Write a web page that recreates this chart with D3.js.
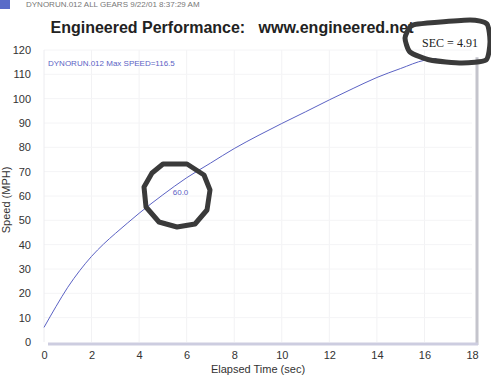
<!DOCTYPE html>
<html>
<head>
<meta charset="utf-8">
<script src="https://cdn.jsdelivr.net/npm/d3@7"></script>
<style>
  body { margin: 0; background: #fff; }
  text { font-family: "Liberation Sans", Arial, sans-serif; }
</style>
</head>
<body>
<div id="chart"></div>
<script>
// Data read from the dyno sheet
var times = [0, 0.5, 1, 1.5, 2, 2.5, 3, 3.5, 4, 4.5, 5, 6, 7, 8, 9, 10, 11, 12, 13, 14, 15, 16, 16.5];
var speeds = [6, 14.5, 22.5, 29.3, 35.2, 40.2, 44.6, 48.8, 52.9, 56.8, 60.5, 67.5, 73.5, 79.5, 84.8, 89.8, 94.6, 99.5, 104.2, 108.7, 112.4, 115.8, 116.5];
var xTicks = [0, 2, 4, 6, 8, 10, 12, 14, 16, 18];
var yTicks = [0, 10, 20, 30, 40, 50, 60, 70, 80, 90, 100, 110, 120];
var runLabel = "DYNORUN.012  Max SPEED=116.5";
var markTime = 4.91, markSpeed = 60;

var W = 491, H = 377;
var lineColor = "#5b62c4",
    inkColor = "#3a3a3a";

var svg = d3.select("#chart").append("svg")
    .attr("width", W)
    .attr("height", H);

var x = d3.scaleLinear().domain([0, 18]).range([44, 472]);
var y = d3.scaleLinear().domain([0, 120]).range([342, 50]);

// scan header remnants
svg.append("rect").attr("x", 0).attr("y", 0).attr("width", 10).attr("height", 9).style("fill", "#5a6cc8");
svg.append("text").attr("x", 26).attr("y", 7).text("DYNORUN.012  ALL GEARS  9/22/01 8:37:29 AM")
    .style("font-size", "8px").style("fill", "#777");

// title
svg.append("text").attr("x", 232).attr("y", 33).attr("text-anchor", "middle")
    .attr("xml:space", "preserve")
    .text("Engineered Performance:   www.engineered.net")
    .style("font-size", "16px").style("font-weight", "bold").style("fill", "#222");

// faint grid
svg.append("g").selectAll("line").data(xTicks.slice(1, -1)).enter().append("line")
    .attr("x1", d => x(d)).attr("x2", d => x(d)).attr("y1", y(120)).attr("y2", y(0))
    .style("stroke", "#f2f2f4");
svg.append("g").selectAll("line").data(yTicks.slice(1)).enter().append("line")
    .attr("x1", x(0)).attr("x2", x(18)).attr("y1", d => y(d)).attr("y2", d => y(d))
    .style("stroke", "#f4f4f6");
svg.append("line").attr("x1", x(0)).attr("x2", x(0)).attr("y1", y(120)).attr("y2", y(0))
    .style("stroke", "#ececf0");

// plot frame (right and bottom edges)
svg.append("line").attr("x1", x(18) + 5).attr("x2", x(18) + 5).attr("y1", y(117)).attr("y2", y(0) + 3)
    .style("stroke", "#c4c4cc").style("stroke-width", 3);
svg.append("line").attr("x1", x(0) + 4).attr("x2", x(18) + 6).attr("y1", y(0) + 2).attr("y2", y(0) + 2)
    .style("stroke", "#cdcde0").style("stroke-width", 3);

// axes
var xAxis = d3.axisBottom(x).tickValues(xTicks).tickSize(0).tickPadding(9);
var yAxis = d3.axisLeft(y).tickValues(yTicks).tickSize(0).tickPadding(13);

var gx = svg.append("g").attr("transform", "translate(0," + y(0) + ")").call(xAxis);
var gy = svg.append("g").attr("transform", "translate(" + x(0) + ",0)").call(yAxis);
[gx, gy].forEach(function (g) {
    g.select(".domain").remove();
    g.selectAll("text").style("font-size", "11px").style("fill", "#333")
        .style("font-family", "'Liberation Sans', Arial, sans-serif");
});

svg.append("text").attr("x", 258).attr("y", 373).attr("text-anchor", "middle")
    .text("Elapsed Time (sec)").style("font-size", "11px").style("fill", "#333");
svg.append("text").attr("transform", "translate(10,200) rotate(-90)").attr("text-anchor", "middle")
    .text("Speed (MPH)").style("font-size", "11px").style("fill", "#333");

// run label
svg.append("text").attr("x", 48).attr("y", 66).text(runLabel)
    .style("font-size", "8px").style("fill", lineColor);

// speed curve
var pts = times.map((t, i) => ({t: t, v: speeds[i]}));
var line = d3.line()
    .x(d => x(d.t))
    .y(d => y(d.v))
    .curve(d3.curveMonotoneX);

svg.append("path").datum(pts).attr("d", line)
    .style("fill", "none").style("stroke", lineColor).style("stroke-width", 1);

// 60 mph marker label
svg.append("text").attr("x", x(markTime) + 12).attr("y", y(markSpeed) - 1).text(markSpeed.toFixed(1))
    .style("font-size", "8px").style("fill", lineColor);

// hand-drawn circles
var pen = d3.line().curve(d3.curveLinearClosed);
var cx = 177, cy = 195;
var ring = [[-14, -31], [10, -31], [27, -20], [33, -5], [30, 15], [18, 29], [0, 32], [-18, 27], [-31, 12], [-33, -8], [-25, -22]]
    .map(p => [cx + p[0], cy + p[1]]);
svg.append("path").attr("d", pen(ring))
    .style("fill", "none").style("stroke", inkColor).style("stroke-width", 5).style("stroke-linejoin", "round");

var box = [[418, 24], [470, 20], [487, 24], [490, 42], [486, 60], [462, 63], [430, 60], [410, 52], [405, 38], [410, 27]];
svg.append("path").attr("d", d3.line().curve(d3.curveCardinalClosed.tension(0.4))(box))
    .style("fill", "none").style("stroke", inkColor).style("stroke-width", 5);

svg.append("text").attr("x", 450).attr("y", 47).attr("text-anchor", "middle")
    .text("SEC = " + markTime.toFixed(2))
    .style("font-family", "'Liberation Serif', 'Times New Roman', serif")
    .style("font-size", "12px").style("fill", "#222");
</script>
</body>
</html>
